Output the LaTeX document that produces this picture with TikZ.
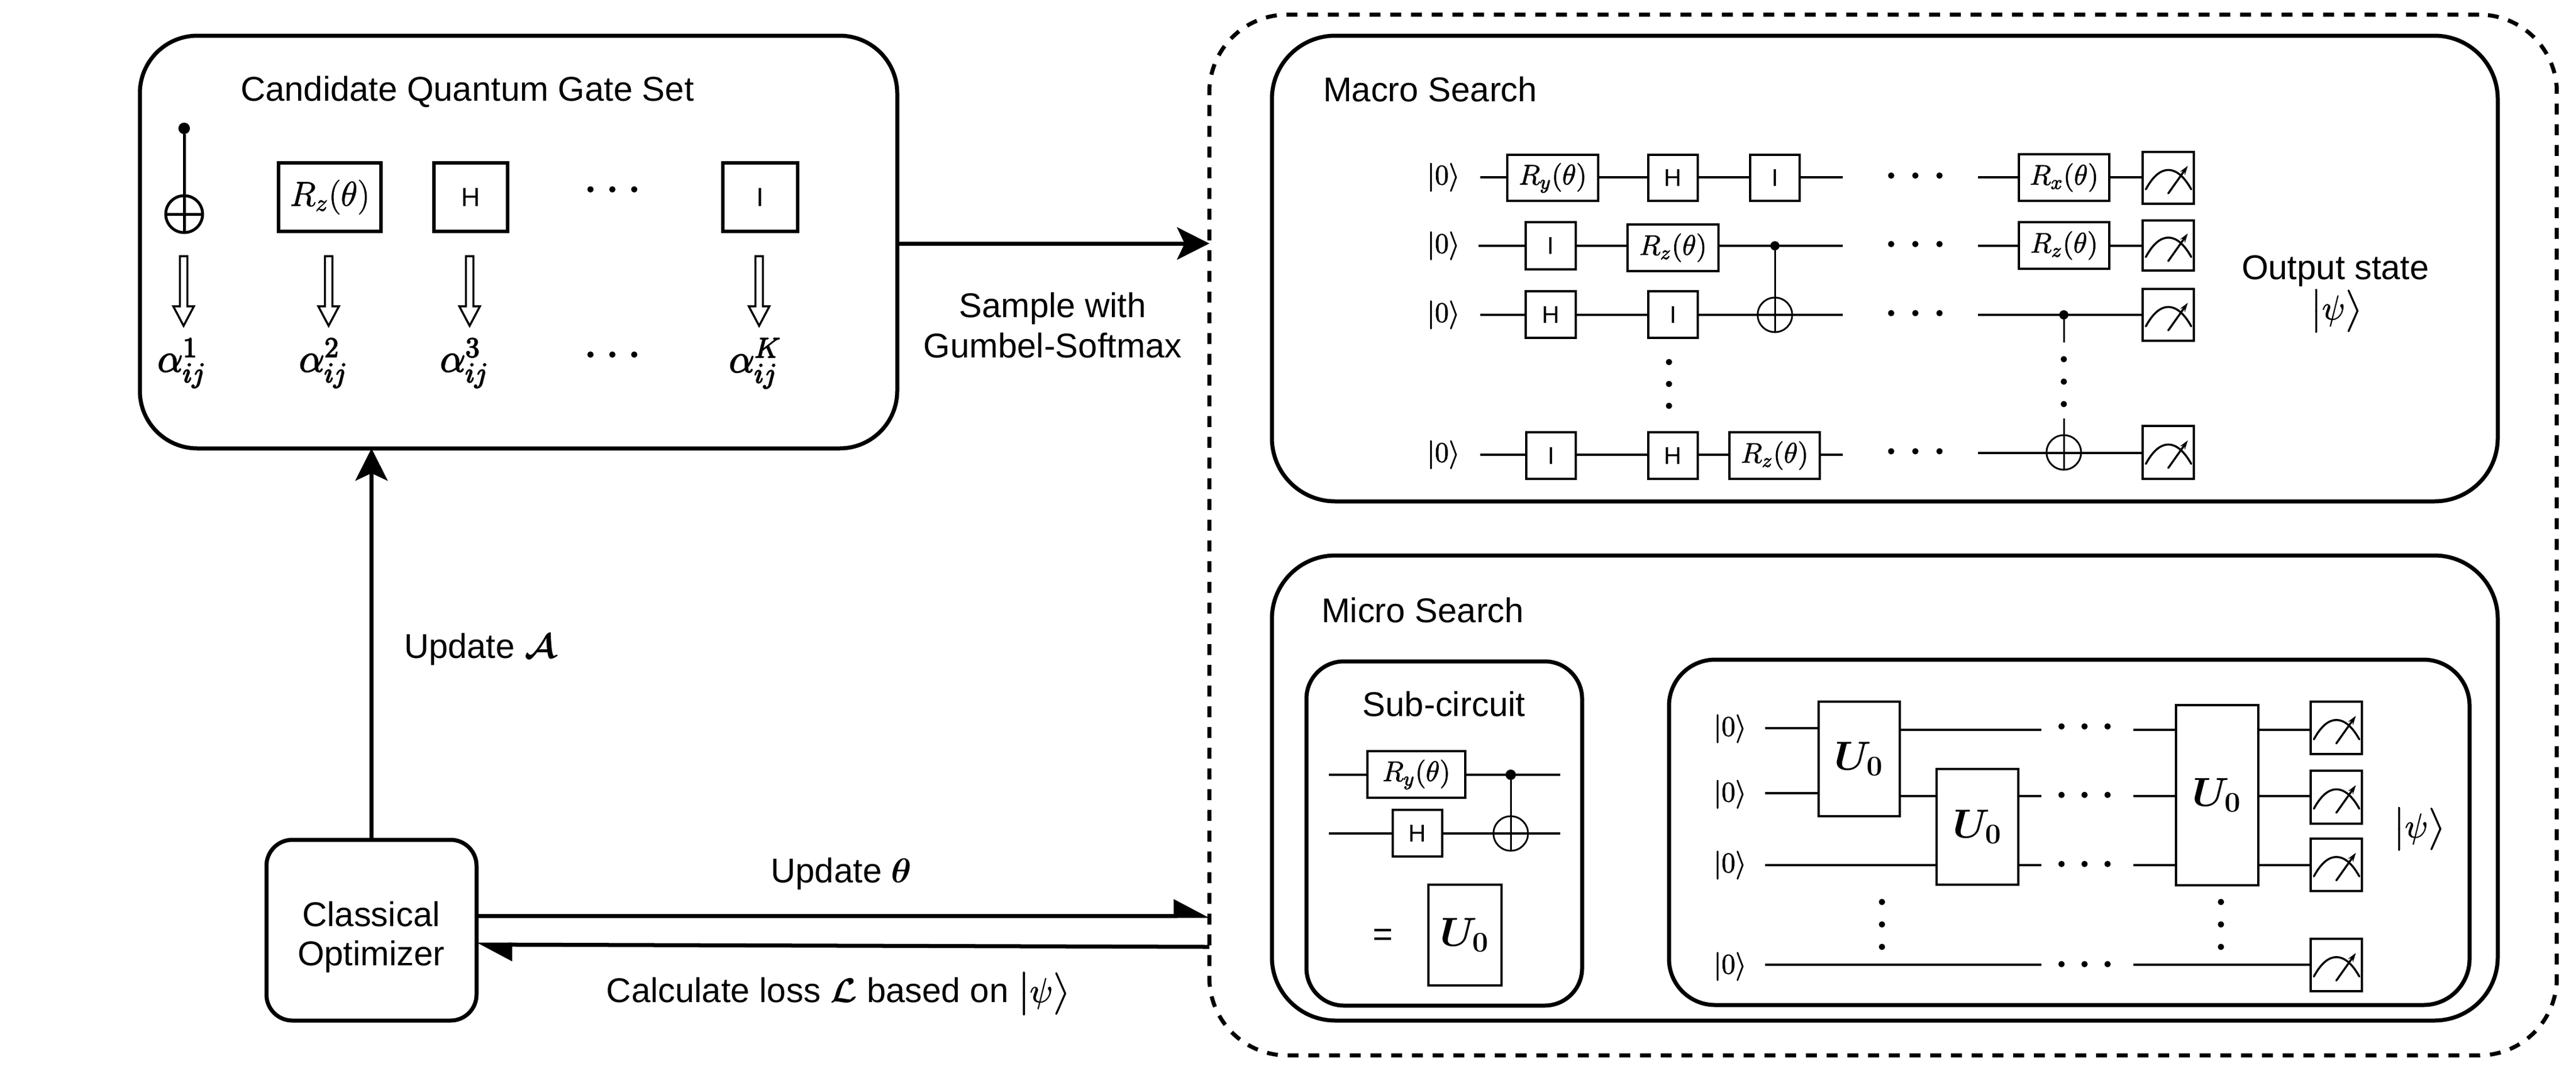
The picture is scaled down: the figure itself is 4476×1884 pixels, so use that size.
\RequirePackage{fix-cm}
\documentclass[tikz,border=0pt]{standalone}
\usepackage{amsmath,bm}
\usepackage[no-math]{fontspec}
\setmainfont{Liberation Sans}
\usetikzlibrary{arrows.meta,calc}
\newcommand\fsM{\fontsize{17}{20}\selectfont}
\newcommand\fsR{\fontsize{14}{16}\selectfont}
\newcommand\fsU{\fontsize{20}{24}\selectfont}
\newcommand\heavy[1]{\special{pdf:code 2 Tr 0.25 w}#1\special{pdf:code 0 Tr 0 w}}
\newcommand\heavier[1]{\special{pdf:code 2 Tr 0.55 w}#1\special{pdf:code 0 Tr 0 w}}
\newcommand\ketpsi{\heavy{$\big|\psi\big\rangle$}}
\tikzset{
  bigbox/.style={draw,line width=0.07cm,inner sep=0pt,outer sep=0pt},
  dashbox/.style={bigbox,rounded corners=1.35cm,dash pattern=on 0.19cm off 0.17cm},
  gatebox/.style={draw,line width=0.04cm,inner sep=0pt,outer sep=0pt,font=\fontsize{12}{14}\selectfont},
  thickgate/.style={draw,line width=0.065cm,inner sep=0pt,outer sep=0pt,font=\fontsize{13}{15}\selectfont},
  wire/.style={line width=0.04cm},
  thinwire/.style={line width=0.03cm},
  oplusnode/.style={circle,draw,line width=0.03cm,inner sep=0pt,outer sep=0pt,minimum size=0.6cm},
  ctrl/.style={circle,fill=black,inner sep=0pt,outer sep=0pt,minimum size=0.16cm},
  label/.style={inner sep=0pt,outer sep=0pt,font=\fsM,align=center},
  zero/.style={inner sep=0pt,outer sep=0pt,font=\fontsize{14}{16}\selectfont},
  mainarrow/.style={line width=0.07cm,-{Stealth[length=0.56cm,width=0.56cm,inset=0.13cm]}},
  harparrow/.style={line width=0.07cm,-{Triangle[harpoon,length=0.55cm,width=0.56cm]}},
  meterline/.style={line width=0.035cm,line cap=round},
  hollow/.style={line width=0.035cm,fill=white},
}
% \gate[style]{name}{x1}{x2}{y1}{y2}{content}
\newcommand\gate[7][gatebox]{\node[#1,minimum width={(#4-#3-4)*0.01cm},minimum height={(#6-#5-4)*0.01cm}] (#2) at ({(#3+#4)/2},{(#5+#6)/2}) {#7};}
\newcommand\bigrect[7][]{\node[bigbox,#1,minimum width={(#4-#3)*0.01cm},minimum height={(#6-#5)*0.01cm},rounded corners=#7*0.01cm] (#2) at ({(#3+#4)/2},{(#5+#6)/2}) {};}
\newcommand\meter[5]{\gate{#1}{#2}{#3}{#4}{#5}{}
  \draw[meterline] ($(#1.center)+(-39,20)$) .. controls ($(#1.center)+(-15,-25)$) and ($(#1.center)+(15,-25)$) .. ($(#1.center)+(40,20)$);
  \draw[meterline,-{Stealth[length=0.16cm,width=0.1cm]}] ($(#1.center)+(0,27)$) -- ($(#1.center)+(34,-21)$);}
\newcommand\threeH[3]{\fill (#1-#3,#2) circle[radius=5.5] (#1,#2) circle[radius=5.5] (#1+#3,#2) circle[radius=5.5];}
\newcommand\threeV[3]{\fill (#1,#2-#3) circle[radius=5.5] (#1,#2) circle[radius=5.5] (#1,#2+#3) circle[radius=5.5];}
\newcommand\hollowarrow[1]{\draw[hollow] (#1-6.5,445) -- (#1+6.5,445) -- (#1+6.5,532) -- (#1+18,532) -- (#1,566) -- (#1-18,532) -- (#1-6.5,532) -- cycle;}
\newcommand\Rg[1]{\fsR\heavy{$R_{#1}(\theta)$}}
\newcommand\Uz{\fsU$\bm{U_0}$}
\newcommand\ket{\heavy{$|0\rangle$}}
\begin{document}
\begin{tikzpicture}[x=0.01cm,y=-0.01cm]
\useasboundingbox (0,0) rectangle (4476,1884);

% ---------- outer boxes
\bigrect{cand}{243}{1559}{62}{779}{100}
\bigrect{opt}{463}{828}{1459}{1773}{45}
\node[bigbox,dashbox,minimum width=23.40cm,minimum height=18.07cm] (dash) at (3272,929.5) {};
\bigrect{macro}{2210}{4340}{62}{871}{110}
\bigrect{micro}{2210}{4340}{965}{1773}{110}
\bigrect{sub}{2270}{2749}{1149}{1747}{65}
\bigrect{circ}{2900}{4291}{1146}{1746}{80}

% ---------- candidate gate set
\node[label] (candtitle) at (812,159) {Candidate Quantum Gate Set};
\node[ctrl,minimum size=0.2cm] (c0) at (320,223) {};
\node[oplusnode,line width=0.05cm,minimum size=0.64cm] (c1) at (320,372) {};
\draw[line width=0.05cm] (c0) -- (c1.south);
\draw[line width=0.05cm] (c1.west) -- (c1.east);
\gate[thickgate]{cz}{482}{664}{281}{404}{\fontsize{17}{20}\selectfont\heavy{$R_z(\theta)$}}
\gate[thickgate]{ch}{752}{884}{281}{404}{H}
\gate[thickgate]{ci}{1254}{1388}{281}{404}{I}
\threeH{1064}{329}{38}
\hollowarrow{319}\hollowarrow{571}\hollowarrow{816}\hollowarrow{1319}
\node[label,font=\fsU] (a1) at (316,631) {\heavier{$\alpha_{ij}^{1}$}};
\node[label,font=\fsU] (a2) at (562,631) {\heavier{$\alpha_{ij}^{2}$}};
\node[label,font=\fsU] (a3) at (807,631) {\heavier{$\alpha_{ij}^{3}$}};
\node[label,font=\fsU] (a4) at (1312,631) {\heavier{$\alpha_{ij}^{K}$}};
\threeH{1064}{616}{38}

% ---------- left connectors
\coordinate (sampin) at (dash.west |- 0,423);
\coordinate (updin) at (dash.west |- 0,1591);
\coordinate (lossout) at (dash.west |- 0,1645);
\draw[mainarrow] (opt.north) -- (opt.north |- cand.south);
\draw[mainarrow] (cand.east |- sampin) -- (sampin);
\draw[harparrow] (opt.east |- updin) -- (updin);
\draw[harparrow] (lossout) -- (opt.east |- 0,1641);
\node[label] (lsample) at (1829,565) {Sample with\\[0pt]Gumbel-Softmax};
\node[label,anchor=base west] (lupda) at (702,1143) {Update $\bm{\mathcal{A}}$};
\node[label,anchor=base] (lupdt) at (1462,1533) {Update $\bm{\theta}$};
\node[label,anchor=base] (lloss) at (1456,1741) {Calculate loss $\bm{\mathcal{L}}$ based on \ketpsi};
\node[label] (l1) at (645,1588) {Classical};
\node[label] (l2) at (645,1662) {Optimizer};

% ---------- macro search
\node[label,anchor=base west] (macrot) at (2299,176) {Macro Search};
\foreach \n/\y in {1/308,2/427,3/547,4/790}{\node[zero] (z\n) at (2508,\y) {\ket};}
\coordinate (s1) at (2572,308);\coordinate (s2) at (2569,427);\coordinate (s3) at (2572,547);\coordinate (s4) at (2572,790);
\coordinate (e1) at (3202,308);\coordinate (e2) at (3202,427);\coordinate (e3) at (3202,547);\coordinate (e4) at (3202,790);
\coordinate (f1) at (3437,308);\coordinate (f2) at (3437,427);\coordinate (f3) at (3437,547);\coordinate (f4) at (3437,787);
% row 1
\gate{g11}{2617}{2779}{267}{351}{\Rg{y}}
\gate{g12}{2862}{2952}{267}{351}{H}
\gate{g13}{3039}{3129}{267}{351}{I}
\gate{g14}{3506}{3667}{266}{351}{\Rg{x}}
\meter{m1}{3721}{3814}{262}{356}
\draw[wire] (s1) -- (g11.west |- s1) (g11.east |- s1) -- (g12.west |- s1) (g12.east |- s1) -- (g13.west |- s1) (g13.east |- s1) -- (e1) (f1) -- (g14.west |- f1) (g14.east |- f1) -- (m1.west |- f1);
% row 2
\gate{g21}{2649}{2740}{384}{470}{I}
\gate{g22}{2826}{2988}{388}{473}{\Rg{z}}
\gate{g24}{3506}{3667}{384}{469}{\Rg{z}}
\meter{m2}{3721}{3814}{381}{472}
\draw[wire] (s2) -- (g21.west |- s2) (g21.east |- s2) -- (g22.west |- s2) (g22.east |- s2) -- (e2) (f2) -- (g24.west |- f2) (g24.east |- f2) -- (m2.west |- f2);
% row 3
\gate{g31}{2649}{2740}{504}{589}{H}
\gate{g32}{2862}{2952}{504}{589}{I}
\meter{m3}{3721}{3814}{500}{594}
\node[oplusnode] (x1) at (3084,547) {};
\node[ctrl] (d1) at (3084,427) {};
\draw[thinwire] (d1) -- (x1.south);
\draw[wire] (s3) -- (g31.west |- s3) (g31.east |- s3) -- (g32.west |- s3) (g32.east |- s3) -- (e3) (f3) -- (m3.west |- f3);
% row 4
\gate{g41}{2650}{2740}{749}{834}{I}
\gate{g42}{2862}{2952}{749}{834}{H}
\gate{g43}{3003}{3164}{749}{834}{\Rg{z}}
\meter{m4}{3721}{3814}{738}{834}
\draw[wire] (s4) -- (g41.west |- s4) (g41.east |- s4) -- (g42.west |- s4) (g42.east |- s4) -- (g43.west |- s4) (g43.east |- s4) -- (e4) (f4) -- (m4.west |- f4);
% long CNOT
\node[ctrl] (d2) at (3586,547) {};
\node[oplusnode] (x2) at (3586,786) {};
\coordinate (v1) at (3586,595);\coordinate (v2) at (3586,727);
\draw[thinwire] (d2) -- (v1) (v2) -- (x2.south);
\threeV{3586}{663}{39}
\threeV{2900}{667}{38}
\foreach \y in {305,424,544,784}{\threeH{3328}{\y}{42}}
\node[label,anchor=base] (outl) at (4058,485) {Output state};
\node[label] (outk) at (4059,540) {\ketpsi};

% ---------- micro search
\node[label,anchor=base west] (microt) at (2296,1081) {Micro Search};
\node[label] (subt) at (2509,1223) {Sub-circuit};
\gate{sry}{2374}{2548}{1303}{1388}{\Rg{y}}
\gate{sh}{2418}{2508}{1405}{1490}{H}
\coordinate (sa) at (2309,1346);\coordinate (sb) at (2711,1346);
\coordinate (sc) at (2309,1448);\coordinate (sd) at (2711,1448);
\node[ctrl,minimum size=0.18cm] (sdot) at (2625,1346) {};
\node[oplusnode] (sx) at (2625,1448) {};
\draw[thinwire] (sdot) -- (sx.south);
\draw[wire] (sa) -- (sry.west |- sa) (sry.east |- sa) -- (sb) (sc) -- (sh.west |- sc) (sh.east |- sc) -- (sd);
\node[label] (eq) at (2403,1629) {=};
\gate{su}{2480}{2611}{1535}{1714}{\Uz}

\foreach \n/\y in {1/1266,2/1380,3/1503,4/1679}{\node[zero] (q\n) at (3006,\y) {\ket};}
\gate{ua}{3158}{3303}{1217}{1420}{\Uz}
\gate{ub}{3363}{3509}{1334}{1539}{\Uz}
\gate{uc}{3779}{3926}{1223}{1540}{\Uz}
\meter{p1}{4013}{4106}{1217}{1312}
\meter{p2}{4013}{4106}{1337}{1433}
\meter{p3}{4013}{4106}{1455}{1550}
\meter{p4}{4013}{4106}{1629}{1724}
\coordinate (w1) at (3067,1265);\coordinate (w2) at (3067,1378);\coordinate (w3) at (3067,1503);\coordinate (w4) at (3067,1676);
\coordinate (t1) at (3547,1268);\coordinate (t2) at (3547,1383);\coordinate (t3) at (3547,1503);\coordinate (t4) at (3547,1676);
\coordinate (r1) at (3707,1268);\coordinate (r2) at (3707,1383);\coordinate (r3) at (3707,1503);\coordinate (r4) at (3707,1676);
\draw[wire] (w1) -- (ua.west |- w1) (w2) -- (ua.west |- w2) (w3) -- (ub.west |- w3) (w4) -- (t4)
  (ua.east |- t1) -- (t1) (ua.east |- t2) -- (ub.west |- t2) (ub.east |- t2) -- (t2) (ub.east |- t3) -- (t3)
  (r1) -- (uc.west |- r1) (r2) -- (uc.west |- r2) (r3) -- (uc.west |- r3) (r4) -- (p4.west |- r4)
  (uc.east |- r1) -- (p1.west |- r1) (uc.east |- r2) -- (p2.west |- r2) (uc.east |- r3) -- (p3.west |- r3);
\foreach \y in {1262,1381,1501,1675}{\threeH{3622}{\y}{40}}
\threeV{3270}{1606}{39}
\threeV{3859}{1606}{39}
\node[label] (psi2) at (4203,1440) {\ketpsi};
\end{tikzpicture}
\end{document}
